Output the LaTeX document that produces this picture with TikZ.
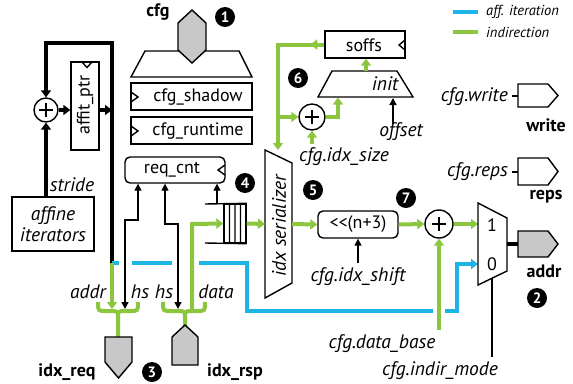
\documentclass[tikz,border=0pt]{standalone}
\usepackage{fontspec}
\setmainfont{PT Sans}
\usetikzlibrary{arrows.meta}
\definecolor{grn}{HTML}{8CC63F}
\definecolor{blu}{HTML}{1EB4E6}
\definecolor{portgray}{HTML}{C8C8C8}
\begin{document}
\begin{tikzpicture}[x=1pt,y=-1pt,
 ln/.style={line width=1.4pt},
 thk/.style={line width=4pt},
 gl/.style={draw=grn, line width=4pt},
 bl/.style={draw=blu, line width=4pt},
 arr/.style={-{Triangle[length=7pt,width=10pt]}},
 tarr/.style={-{Triangle[length=7pt,width=7pt]}},
 btarr/.style={{Triangle[length=7pt,width=7pt]}-{Triangle[length=7pt,width=7pt]}},
 box/.style={draw, line width=1.4pt, fill=white, inner sep=0pt},
 lbl/.style={font=\fontsize{18}{20}\selectfont, inner sep=0pt},
 ilbl/.style={font=\fontsize{19.5}{21}\selectfont\itshape, inner sep=0pt},
 blbl/.style={font=\fontsize{18}{20}\selectfont\bfseries, inner sep=0pt},
 leg/.style={font=\fontsize{14.5}{16}\selectfont\itshape, inner sep=0pt, anchor=west},
 badge/.style={circle, fill=black, text=white, font=\fontsize{15}{15}\selectfont\bfseries, inner sep=0pt, minimum size=20pt},
 plusn/.style={circle, draw, line width=1.4pt, fill=white, inner sep=0pt,
   path picture={\draw[line width=1.4pt]
     ([xshift=-7pt]path picture bounding box.center) -- ([xshift=7pt]path picture bounding box.center)
     ([yshift=-7pt]path picture bounding box.center) -- ([yshift=7pt]path picture bounding box.center);}},
 bridge/.style={draw=white, line width=6pt}
]
\useasboundingbox (0,0) rectangle (573,383);

% ---------- legend
\coordinate (lgb1) at (453,12); \coordinate (lgb2) at (478,12);
\coordinate (lgg1) at (453,32); \coordinate (lgg2) at (478,32);
\draw[bl] (lgb1) -- (lgb2);
\draw[gl] (lgg1) -- (lgg2);
\node[leg] (legb) at (486,12) {aff. iteration};
\node[leg] (legg) at (486,32) {indirection};

% ---------- cfg input
\draw[ln, fill=white] (145,51) -- (239,51) -- (252,77) -- (131,77) -- cycle;
\draw[ln, fill=portgray] (192,10) -- (206,23) -- (206,50) -- (192,63) -- (178,50) -- (178,23) -- cycle;
\node[blbl] (cfgl) at (158,12) {cfg};
\node[badge] (b1) at (225,17) {1};

\node[box, minimum width=121pt, minimum height=27pt] (shadow) at (191.5,96.5) {};
\draw[ln] (131,92) -- (138,97) -- (131,102);
\node[lbl] (shadowt) at (198,97) {cfg\_shadow};
\node[box, minimum width=121pt, minimum height=27pt] (runtime) at (191.5,130.5) {};
\draw[ln] (131,126) -- (138,131) -- (131,136);
\node[lbl] (runtimet) at (198,131) {cfg\_runtime};

% ---------- affine part
\node[plusn, minimum size=24pt] (p1) at (46,110) {};
\node[box, minimum width=28pt, minimum height=88pt] (affit) at (85,106) {};
\draw[ln] (82,62) -- (87,67.5) -- (92,62);
\node[lbl, rotate=90] (affitt) at (85,105) {affit\_ptr};
\node[box, ilbl, minimum width=82pt, minimum height=54pt, align=center] (aff) at (53,224) {affine\\iterators};
\node[ilbl] (stridel) at (72,185) {stride};
\coordinate (ltop) at (112,43);
\coordinate (lcor) at (46,43);
\coordinate (bsplit) at (112,263);
\draw[thk, arr] (p1.east) -- (p1.east -| affit.west);
\draw[thk, arr] (affit.east |- p1.east) -- (bsplit |- p1.east);
\draw[thk, arr] (bsplit) -- (ltop) -- (lcor) -- (p1.north);
\draw[thk, arr] (p1.south |- aff.north) -- (p1.south);

% ---------- req_cnt and fifo
\node[box, rounded corners=5pt, minimum width=100pt, minimum height=26pt] (req) at (175,170) {};
\draw[ln] (225,165) -- (218,170) -- (225,175);
\node[lbl] (reqt) at (172,170) {req\_cnt};
\node[badge] (b4) at (245,183) {4};
\node[draw, line width=1.4pt, fill=white, minimum width=22pt, minimum height=39pt, inner sep=0pt] (fifo) at (235,223.5) {};
\draw[ln] (205,204) -- (fifo.north east) (205,243) -- (fifo.south east)
  (229.5,204) -- (229.5,243) (235,204) -- (235,243) (240.5,204) -- (240.5,243);
\draw[ln, tarr] (217,204) -- ([xshift=42pt]req.south);

% ---------- blue affine address path
\coordinate (mux0) at (478,264);
\coordinate (mux1) at (478,224);
\draw[bl, arr] (bsplit) -- (247,263) -- (247,311) -- (457,311) -- (457,264) -- (mux0);
\draw[bridge] (119,263) -- (132,263);
\draw[bridge] (172,263) -- (199,263);
\draw[bridge] (433,311) -- (445,311);

% ---------- bundles and ports
\draw[gl, arr] (bsplit) -- (112,309);
\draw[ln, btarr] ([xshift=-37pt]req.south) -- (138,220) -- (125,220) -- (125,309);
\draw[ln, btarr] ([xshift=-10pt]req.south) -- (165,224) -- (178,224) -- (178,309);
\draw[gl, arr] (192,311) -- (192,224) -- (fifo.west);
\draw[gl] (98,302) .. controls (98,311) .. (106,311) -- (110,311) .. controls (118,311) .. (118,318) -- (118,337);
\draw[gl] (138,302) .. controls (138,311) .. (130,311) -- (126,311) .. controls (118,311) .. (118,318);
\draw[gl] (163,302) .. controls (163,311) .. (171,311) -- (177,311) .. controls (185,311) .. (185,318) -- (185,327);
\draw[gl] (205,302) .. controls (205,311) .. (197,311) -- (193,311) .. controls (185,311) .. (185,318);
\draw[ln, fill=portgray] (105,337) -- (132,337) -- (132,362) -- (118.5,378) -- (105,362) -- cycle;
\draw[ln, fill=portgray] (185,325) -- (198,337) -- (198,365) -- (172,365) -- (172,337) -- cycle;
\node[ilbl] (addrl) at (88,292) {addr};
\node[ilbl] (hs1l) at (140,292) {hs};
\node[ilbl] (hs2l) at (164,292) {hs};
\node[ilbl] (datal) at (216,292) {data};
\node[blbl] (idxreq) at (67,372) {idx\_req};
\node[badge] (b3) at (152,372) {3};
\node[blbl] (idxrsp) at (235,372) {idx\_rsp};

% ---------- serializer and offsets
\draw[ln, fill=white] (265,150) -- (292,163) -- (292,283) -- (265,298) -- cycle;
\node[ilbl, rotate=90] (sert) at (279,226) {idx serializer};
\coordinate (sertop) at (278,150);
\coordinate (serL) at (265,224);
\coordinate (serR) at (292,224);
\draw[gl, arr] (fifo.east) -- (serL);
\node[badge] (b5) at (313,190) {5};

\node[box, minimum width=80pt, minimum height=27pt] (soffs) at (365,44.5) {};
\draw[ln] (405,40) -- (399,45) -- (405,50);
\node[lbl] (sofft) at (364,45) {soffs};
\draw[ln, fill=white] (332,71) -- (397,71) -- (413,97) -- (318,97) -- cycle;
\node[ilbl] (initl) at (385,84) {init};
\node[plusn, minimum size=26pt] (p2) at (312,117) {};
\node[badge] (b6) at (298,78) {6};
\draw[gl, arr] (soffs.west) -| (sertop);
\draw[gl, arr] (soffs.west) -- ++(-14,0);
\draw[gl, arr] (sertop |- p2.west) -- (p2.west);
\draw[gl, arr] (p2.east) -- (338,117) -- (338,97.5);
\draw[gl, arr] (366,71) -- ([xshift=1pt]soffs.south);
\draw[gl, arr] (312,144) -- (p2.south);
\node[ilbl] (idxsize) at (344,157) {cfg.idx\_size};
\draw[ln, tarr] (393,124) -- (393,98);
\node[ilbl] (offsetl) at (401,132) {offset};

% ---------- shift, add, mux
\node[box, rounded corners=5pt, minimum width=80pt, minimum height=27pt, lbl] (shift) at (358,224.5) {<{}<(n+3)};
\node[plusn, minimum size=28pt] (p3) at (439,224) {};
\node[badge] (b7) at (406,198) {7};
\draw[gl, arr] (serR) -- (shift.west);
\draw[gl, arr] (shift.east) -- (p3.west);
\draw[gl, arr] (p3.east) -- (mux1);
\draw[gl, arr] (439,330) -- (p3.south);
\draw[ln, tarr] (358,263) -- (shift.south);
\node[ilbl] (shiftl) at (358,277) {cfg.idx\_shift};
\node[ilbl] (basel) at (382,344) {cfg.data\_base};

\draw[ln, fill=white] (478,203) -- (507,218) -- (507,271) -- (478,285) -- cycle;
\node[lbl] (m1) at (492,225) {1};
\node[lbl] (m0) at (492,264) {0};
\coordinate (msel) at (492,278);
\coordinate (mout) at (507,244);
\draw[ln] (msel) -- (492,357);
\node[ilbl] (model) at (440,371) {cfg.indir\_mode};

% ---------- output ports
\draw[ln, fill=white] (518,84) -- (548,84) -- (558,95.5) -- (548,107) -- (518,107) -- cycle;
\draw[ln] (512,96) -- (518,96);
\node[ilbl, anchor=east] (cfgw) at (508,97) {cfg.write};
\node[blbl] (writel) at (546,125) {write};
\draw[ln, fill=white] (518,158) -- (548,158) -- (558,171.5) -- (548,185) -- (518,185) -- cycle;
\draw[ln] (512,172) -- (518,172);
\node[ilbl, anchor=east] (cfgr) at (508,172) {cfg.reps};
\node[blbl] (repsl) at (546,197) {reps};
\draw[ln, fill=portgray] (518,231) -- (548,231) -- (558,244) -- (548,257) -- (518,257) -- cycle;
\draw[thk] (mout) -- (518,244);
\node[blbl] (addrout) at (544,271) {addr};
\node[badge] (b2) at (537,298) {2};
\end{tikzpicture}
\end{document}
